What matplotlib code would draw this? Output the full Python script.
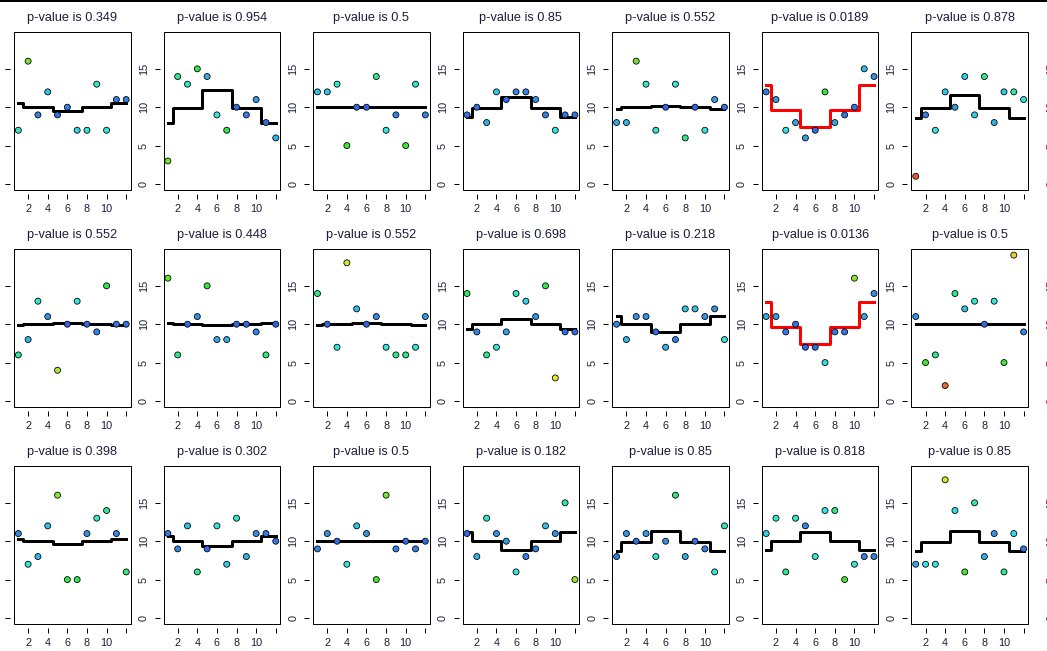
import math
import numpy as np
import matplotlib
matplotlib.use("Agg")
import matplotlib.pyplot as plt
from matplotlib.colors import hsv_to_rgb
from matplotlib.patches import Rectangle

# ---------------- data ----------------
months = [1, 2, 3, 4, 5, 6, 7, 8, 9, 10, 11, 12]
# season of each month: 0 = Nov-Jan, 1 = Feb-Apr, 2 = May-Jul, 3 = Aug-Oct
season_of_month = [0, 1, 1, 1, 2, 2, 2, 3, 3, 3, 0, 0]

pvals_row1 = ["0.349", "0.954", "0.5", "0.85", "0.552", "0.0189", "0.878"]
pvals_row2 = ["0.552", "0.448", "0.552", "0.698", "0.218", "0.0136", "0.5"]
pvals_row3 = ["0.398", "0.302", "0.5", "0.182", "0.85", "0.818", "0.85"]

counts_row1 = [
    [7, 16, 9, 12, 9, 10, 7, 7, 13, 7, 11, 11],
    [3, 14, 13, 15, 14, 9, 7, 10, 9, 11, 8, 6],
    [12, 12, 13, 5, 10, 10, 14, 7, 9, 5, 13, 9],
    [9, 10, 8, 12, 11, 12, 12, 11, 9, 7, 9, 9],
    [8, 8, 16, 13, 7, 10, 13, 6, 10, 7, 11, 10],
    [12, 11, 7, 8, 6, 7, 12, 8, 9, 10, 15, 14],
    [1, 9, 7, 12, 10, 14, 9, 14, 8, 12, 12, 11],
]
counts_row2 = [
    [6, 8, 13, 11, 4, 10, 13, 10, 9, 15, 10, 10],
    [16, 6, 10, 11, 15, 8, 8, 10, 10, 9, 6, 10],
    [14, 10, 7, 18, 12, 10, 11, 7, 6, 6, 7, 11],
    [14, 9, 6, 7, 9, 14, 13, 11, 15, 3, 9, 9],
    [10, 8, 11, 11, 9, 7, 8, 12, 12, 11, 12, 8],
    [11, 11, 9, 10, 7, 7, 5, 9, 9, 16, 11, 14],
    [11, 5, 6, 2, 14, 12, 13, 10, 13, 5, 19, 9],
]
counts_row3 = [
    [11, 7, 8, 12, 16, 5, 5, 11, 13, 14, 11, 6],
    [11, 9, 12, 6, 9, 12, 7, 13, 8, 11, 11, 10],
    [9, 11, 10, 7, 12, 11, 5, 16, 9, 10, 9, 10],
    [11, 8, 13, 11, 10, 6, 8, 9, 12, 11, 15, 5],
    [8, 11, 10, 11, 8, 10, 16, 8, 10, 9, 6, 12],
    [11, 13, 6, 13, 12, 8, 14, 14, 5, 7, 8, 8],
    [7, 7, 7, 18, 14, 6, 15, 8, 11, 6, 11, 9],
]

# fitted seasonal levels [Nov-Jan, Feb-Apr, May-Jul, Aug-Oct]
levels_row1 = [
    [10.5, 10.0, 9.5, 10.0],
    [7.9, 9.9, 12.2, 9.9],
    [10.0, 10.0, 10.0, 10.0],
    [8.7, 9.9, 11.3, 9.9],
    [9.8, 10.0, 10.2, 10.0],
    [12.9, 9.7, 7.45, 9.7],
    [8.6, 9.9, 11.6, 9.9],
]
levels_row2 = [
    [9.85, 10.0, 10.15, 10.0],
    [10.15, 10.0, 9.9, 10.0],
    [9.9, 10.0, 10.15, 10.0],
    [9.35, 10.0, 10.65, 10.0],
    [11.05, 10.0, 8.95, 10.0],
    [12.95, 9.7, 7.4, 9.7],
    [10.0, 10.0, 10.0, 10.0],
]
levels_row3 = [
    [10.25, 10.0, 9.65, 10.0],
    [10.65, 10.0, 9.35, 10.0],
    [10.0, 10.0, 10.0, 10.0],
    [11.2, 10.0, 8.85, 10.0],
    [8.7, 9.9, 11.3, 9.9],
    [8.85, 10.0, 11.2, 10.0],
    [8.7, 9.9, 11.35, 9.9],
]

x_ticks = [2, 4, 6, 8, 10, 12]
x_tick_labels = ["2", "4", "6", "8", "10", ""]
y_ticks = [0, 5, 10, 15]
y_tick_labels = ["0", "5", "10", "15"]

# ---------------- style ----------------
W, H, DPI = 1047, 651, 100
PX = 72.0 / DPI  # points per pixel
TEXT = "#1b1d3a"

plt.rcParams["font.family"] = ["Liberation Sans", "DejaVu Sans"]

fig = plt.figure(figsize=(W / DPI, H / DPI), dpi=DPI)
fig.patch.set_facecolor("white")

COL0, COLSTEP, BOXW = 14.0, 149.57, 116.5
ROW0, ROWSTEP, BOXH = 32.3, 217.0, 157.5

# hue as a function of log10 tail probability
hue_lp = [-3.3, -2.55, -2.2, -1.8, -1.54, -1.31, -1.17, -1.08, -0.87, -0.68, -0.5, -0.37, -0.25]
hue_h = [0.0, 0.05, 0.14, 0.19, 0.22, 0.28, 0.32, 0.36, 0.42, 0.48, 0.54, 0.58, 0.62]


def pois_cdf(k, lam):
    if k < 0:
        return 0.0
    term = math.exp(-lam)
    tot = term
    for i in range(1, k + 1):
        term *= lam / i
        tot += term
    return min(tot, 1.0)


def point_color(v, lam):
    lo = pois_cdf(v, lam)
    hi = 1.0 - pois_cdf(v - 1, lam)
    p = max(min(lo, hi), 1e-6)
    h = float(np.interp(math.log10(p), hue_lp, hue_h))
    return hsv_to_rgb((h, 0.78, 0.9))


def make_axes(left_px, top_px):
    return fig.add_axes([left_px / W, 1 - (top_px + BOXH) / H, BOXW / W, BOXH / H])


def style_axes(ax, show_box=True, tick_color="black", label_color=TEXT, ylabels=True):
    ax.set_xlim(0.56, 12.44)
    ax.set_ylim(-0.76, 19.76)
    ax.set_facecolor("none")
    for s in ["top", "right"]:
        ax.spines[s].set_visible(False)
    for s in ["left", "bottom"]:
        ax.spines[s].set_position(("outward", 4 * PX))
        ax.spines[s].set_color("none")
    if show_box:
        ax.add_patch(Rectangle((0, 0), 1, 1, transform=ax.transAxes, fill=False,
                               lw=PX, ec="black", clip_on=False, zorder=6))
    ax.set_xticks(x_ticks)
    ax.set_xticklabels(x_tick_labels)
    ax.set_yticks(y_ticks)
    ax.set_yticklabels(y_tick_labels if ylabels else [""] * len(y_ticks),
                       rotation=90, va="center")
    ax.tick_params(axis="both", direction="out", length=5 * PX, width=PX,
                   color=tick_color, labelsize=7.8, labelcolor=label_color)
    ax.tick_params(axis="y", pad=5.8 * PX)
    ax.tick_params(axis="x", pad=5.6 * PX)


rows = [
    (pvals_row1, counts_row1, levels_row1),
    (pvals_row2, counts_row2, levels_row2),
    (pvals_row3, counts_row3, levels_row3),
]

for r, (pvals, counts, levels) in enumerate(rows):
    top = ROW0 + r * ROWSTEP
    for c in range(7):
        ax = make_axes(COL0 + c * COLSTEP, top)
        # the y labels of the first column lie outside the cropped picture
        style_axes(ax, ylabels=(c > 0))
        lv = np.array(levels[c])
        fitted = lv[season_of_month]
        sig = float(pvals[c]) < 0.05
        ax.step(months, fitted, where="mid", color="red" if sig else "black",
                lw=3 * PX, zorder=3)
        cols = [point_color(v, lam) for v, lam in zip(counts[c], fitted)]
        ax.scatter(months, counts[c], s=(6 * PX) ** 2, c=cols,
                   edgecolors="black", linewidths=0.8 * PX, zorder=4, clip_on=False)
        ax.set_title(f"p-value is {pvals[c]}", fontsize=9.2, pad=7.8, color=TEXT)

    # partially visible axis labels of the next (cropped) panel
    axn = make_axes(1071, top)
    style_axes(axn, show_box=False, tick_color="none", label_color="#8a1838")
    axn.set_xticklabels([])

# thin dark border at the very top
fig.add_artist(Rectangle((0, 1 - 2.0 / H), 1, 2.0 / H, transform=fig.transFigure,
                         color="black", lw=0))

fig.savefig("out.png", dpi=DPI, facecolor="white")
